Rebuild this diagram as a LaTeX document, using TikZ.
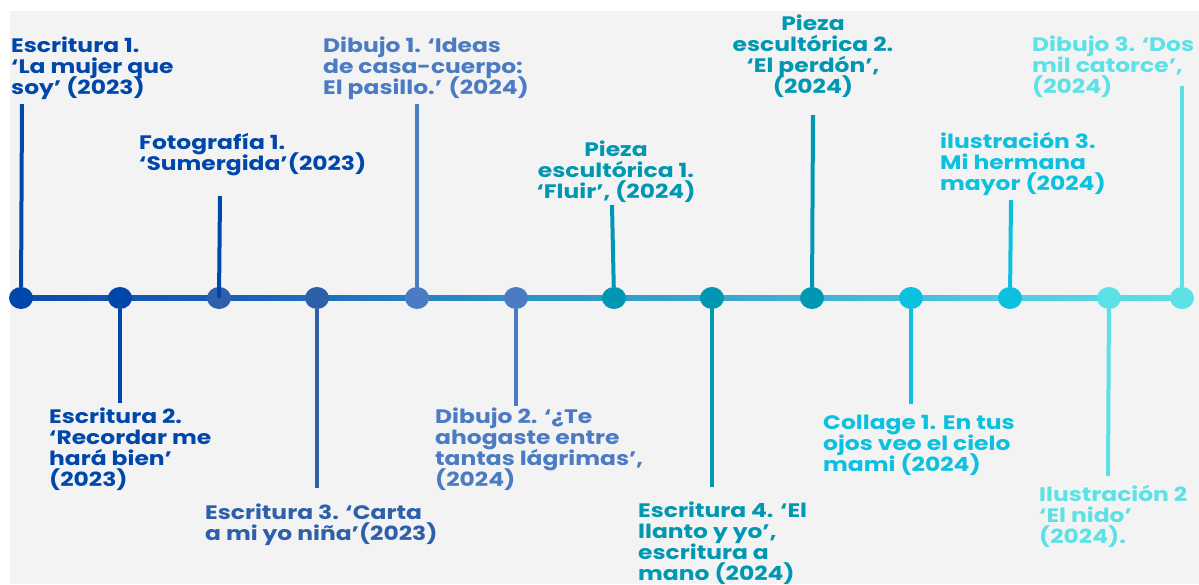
\documentclass[tikz,border=0pt]{standalone}
\usepackage{fontspec}
\setmainfont{Poppins}[FakeStretch=1.2]
\usetikzlibrary{shapes.geometric}
\definecolor{bgc}{HTML}{F3F3F3}
\definecolor{ca}{HTML}{0047AB}
\definecolor{cb}{HTML}{2D60A8}
\definecolor{cc}{HTML}{4A7BC3}
\definecolor{cd}{HTML}{0097B2}
\definecolor{ce}{HTML}{0CC0DF}
\definecolor{cf}{HTML}{5CE1E6}
\definecolor{g1}{HTML}{0B4DAA}
\definecolor{g2}{HTML}{1A63B8}
\definecolor{g3}{HTML}{2B8DC6}
\definecolor{g4}{HTML}{3AA6CF}
\definecolor{g5}{HTML}{4BC3DC}
\definecolor{g6}{HTML}{5CE0E5}
\pgfdeclarehorizontalshading{tline}{100bp}{color(0bp)=(g1); color(25bp)=(g1); color(35bp)=(g2); color(45bp)=(g3); color(55bp)=(g4); color(65bp)=(g5); color(75bp)=(g6); color(100bp)=(g6)}
\newcommand\lbL[1]{\vtop{\baselineskip=21pt\lineskiplimit=-100pt\halign{##\hfil\cr#1\crcr}}}
\newcommand\lbC[1]{\vtop{\baselineskip=21pt\lineskiplimit=-100pt\halign{\hfil##\hfil\cr#1\crcr}}}
\tikzset{
  lab/.style={inner sep=0pt, font=\fontsize{19.5}{21}\selectfont\bfseries},
  dot/.style={ellipse, inner sep=0pt, minimum width=24pt, minimum height=22pt, fill=#1},
  stem/.style={draw=#1, line width=4pt},
}
\begin{document}
\begin{tikzpicture}[x=1pt,y=-1pt]
\useasboundingbox (0,0) rectangle (1199,584);
\fill[white] (0,0) rectangle (1199,584);
\fill[bgc] (10,11) rectangle (1199,584);
% main line
\shade[shading=tline] (21,295.5) rectangle (1182,300.5);
% stem end coordinates
\coordinate (s1) at (22,104);
\coordinate (s2) at (120,403);
\coordinate (s3) at (220,196);
\coordinate (s4) at (317,488);
\coordinate (s5) at (417,104);
\coordinate (s6) at (516,406);
\coordinate (s7) at (612,205);
\coordinate (s8) at (712,487);
\coordinate (s9) at (813,115);
\coordinate (s10) at (911,404);
\coordinate (s11) at (1011,200);
\coordinate (s12) at (1108,476);
\coordinate (s13) at (1182,86);
% dots
\node[dot=ca] (d1) at (21,298) {};
\node[dot=ca] (d2) at (120,298) {};
\node[dot=cb] (d3) at (219,298) {};
\node[dot=cb] (d4) at (317,298) {};
\node[dot=cc] (d5) at (417,298) {};
\node[dot=cc] (d6) at (516,298) {};
\node[dot=cd] (d7) at (614,298) {};
\node[dot=cd] (d8) at (712,298) {};
\node[dot=cd] (d9) at (812,298) {};
\node[dot=ce] (d10) at (911,298) {};
\node[dot=ce] (d11) at (1010,298) {};
\node[dot=cf] (d12) at (1109,298) {};
\node[dot=cf] (d13) at (1182,298) {};
% stems
\draw[stem=ca] (d1) -- (s1);
\draw[stem=ca] (d2) -- (s2);
\draw[stem=ca] (d3.center) -- (s3);
\draw[stem=cb] (d4) -- (s4);
\draw[stem=cc] (d5) -- (s5);
\draw[stem=cc] (d6) -- (s6);
\draw[stem=cd] (d7) -- (s7);
\draw[stem=cd] (d8) -- (s8);
\draw[stem=cd] (d9) -- (s9);
\draw[stem=ce] (d10) -- (s10);
\draw[stem=ce] (d11) -- (s11);
\draw[stem=cf] (d12) -- (s12);
\draw[stem=cf] (d13) -- (s13);
% labels
\node[lab, text=ca, anchor=base west] (l1) at (11,52) {\lbL{Escritura 1.\cr ‘La mujer que\cr soy’ (2023)}};
\node[lab, text=ca, anchor=base west] (l2) at (49,423) {\lbL{Escritura 2.\cr ‘Recordar me\cr hará bien’\cr (2023)}};
\node[lab, text=ca, anchor=base west] (l3) at (139,149) {\lbL{Fotografía 1.\cr ‘Sumergida’(2023)}};
\node[lab, text=cb, anchor=base west] (l4) at (205,519) {\lbL{Escritura 3. ‘Carta\cr a mi yo niña’(2023)}};
\node[lab, text=cc, anchor=base west] (l5) at (323,52) {\lbL{Dibujo 1. ‘Ideas\cr de casa-cuerpo:\cr El pasillo.’ (2024)}};
\node[lab, text=cc, anchor=base west] (l6) at (435,423) {\lbL{Dibujo 2. ‘¿Te\cr ahogaste entre\cr tantas lágrimas’,\cr (2024)}};
\node[lab, text=cd, anchor=base] (l7) at (616,156) {\lbC{Pieza\cr escultórica 1.\cr ‘Fluir’, (2024)}};
\node[lab, text=cd, anchor=base west] (l8) at (638,517) {\lbL{Escritura 4. ‘El\cr llanto y yo’,\cr escritura a\cr mano (2024)}};
\node[lab, text=cd, anchor=base] (l9) at (813,30) {\lbC{Pieza\cr escultórica 2.\cr ‘El perdón’,\cr (2024)}};
\node[lab, text=ce, anchor=base west] (l10) at (823,429) {\lbL{Collage 1. En tus\cr ojos veo el cielo\cr mami (2024)}};
\node[lab, text=ce, anchor=base west] (l11) at (940,148) {\lbL{ilustración 3.\cr Mi hermana\cr mayor (2024)}};
\node[lab, text=cf, anchor=base west] (l12) at (1039,501) {\lbL{Ilustración 2\cr ‘El nido’\cr (2024).}};
\node[lab, text=cf, anchor=base west] (l13) at (1032,51) {\lbL{Dibujo 3. ‘Dos\cr mil catorce’,\cr (2024)}};
\end{tikzpicture}
\end{document}
